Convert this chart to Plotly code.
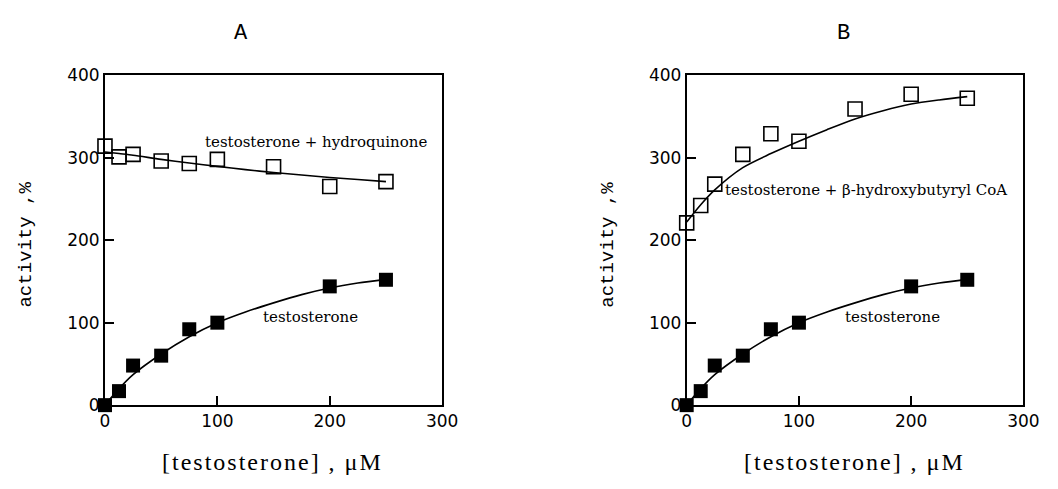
import plotly.graph_objects as go

W, H = 1058, 489

# ---- data ----
conc = [0, 12.5, 25, 50, 75, 100, 150, 200, 250]
hydroquinone = [314, 301, 304, 296, 293, 298, 289, 265, 271]
conc_t = [0, 12.5, 25, 50, 75, 100, 200, 250]
testosterone = [0, 17, 48, 60, 92, 100, 144, 152]
hydroxybutyryl = [221, 242, 268, 304, 329, 320, 359, 377, 372]

# fitted curves
fit_x = [0, 12.5, 25, 50, 75, 100, 125, 150, 175, 200, 225, 250]
fit_hq = [307, 305, 303, 298, 293.5, 289.5, 285.5, 282, 279, 276, 273.5, 271]
fit_t = [0, 20, 37, 62, 83, 100, 113, 124, 134, 142, 148, 152.5]
fit_hb = [222, 243, 261, 288, 305, 320, 334, 347, 357, 365, 370, 374]

xticks = [0, 100, 200, 300]
yticks = [0, 100, 200, 300, 400]

# ---- figure ----
fig = go.Figure()

def px(x):
    return x / W

def py(y):
    return 1 - y / H

open_marker = dict(symbol="square-open", size=14, color="black", line=dict(width=1.6, color="black"))
fill_marker = dict(symbol="square", size=14, color="black", line=dict(width=0))
line_style = dict(color="black", width=1.6, shape="spline", smoothing=0.8)

for xa, ya, upper, fit_upper in [("x", "y", hydroquinone, fit_hq), ("x2", "y2", hydroxybutyryl, fit_hb)]:
    fig.add_trace(go.Scatter(x=fit_x, y=fit_upper, mode="lines", line=line_style,
                             xaxis=xa, yaxis=ya, showlegend=False, hoverinfo="skip", cliponaxis=False))
    fig.add_trace(go.Scatter(x=fit_x, y=fit_t, mode="lines", line=line_style,
                             xaxis=xa, yaxis=ya, showlegend=False, hoverinfo="skip", cliponaxis=False))
    fig.add_trace(go.Scatter(x=conc, y=upper, mode="markers", marker=open_marker,
                             xaxis=xa, yaxis=ya, showlegend=False, cliponaxis=False))
    fig.add_trace(go.Scatter(x=conc_t, y=testosterone, mode="markers", marker=fill_marker,
                             xaxis=xa, yaxis=ya, showlegend=False, cliponaxis=False))

tickfont = dict(family="DejaVu Sans", size=17, color="black")
axis_common = dict(showgrid=False, zeroline=False, showline=True, linecolor="black", linewidth=1.8,
                   mirror=True, ticks="inside", ticklen=9, tickwidth=1.5, tickcolor="black",
                   tickfont=tickfont)

yd = [py(412), py(68)]
fig.update_layout(
    width=W, height=H,
    margin=dict(l=0, r=0, t=0, b=0),
    paper_bgcolor="white", plot_bgcolor="white",
    xaxis=dict(domain=[px(102), px(446)], range=[0, 300], tickvals=xticks, anchor="y", **axis_common),
    yaxis=dict(domain=yd, range=[0, 400], tickvals=yticks, anchor="x", **axis_common),
    xaxis2=dict(domain=[px(695.5), px(1039)], range=[0, 300], tickvals=xticks, anchor="y2", **axis_common),
    yaxis2=dict(domain=yd, range=[0, 400], tickvals=yticks, anchor="x2", **axis_common),
)

ann_font = dict(family="DejaVu Serif", size=15, color="black")
annotations = [
    dict(x=87, y=319, xref="x", yref="y", text="testosterone + hydroquinone", xanchor="left", yanchor="middle", showarrow=False, font=ann_font),
    dict(x=139, y=107, xref="x", yref="y", text="testosterone", xanchor="left", yanchor="middle", showarrow=False, font=ann_font),
    dict(x=139, y=107, xref="x2", yref="y2", text="testosterone", xanchor="left", yanchor="middle", showarrow=False, font=ann_font),
    dict(x=32.5, y=261, xref="x2", yref="y2", text="testosterone + β-hydroxybutyryl CoA", xanchor="left", yanchor="middle", showarrow=False, font=ann_font),
]
title_font = dict(family="Liberation Mono", size=22, color="black")
for txt, x in [("A", 241), ("B", 855)]:
    annotations.append(dict(x=px(x), y=py(25), xref="paper", yref="paper", text=txt, showarrow=False,
                            xanchor="center", yanchor="middle", font=title_font))
ylab_font = dict(family="Liberation Mono", size=19, color="black")
for x in [21, 615]:
    annotations.append(dict(x=px(x), y=py(245), xref="paper", yref="paper", text="activity ,%", textangle=-90,
                            showarrow=False, xanchor="center", yanchor="middle", font=ylab_font))
xlab_font = dict(family="Liberation Serif", size=24, color="black")
for x in [273, 867]:
    annotations.append(dict(x=px(x), y=py(471), xref="paper", yref="paper",
                            text='<span style="letter-spacing:2px">[testosterone] , μM</span>',
                            showarrow=False, xanchor="center", yanchor="middle", font=xlab_font))
fig.update_layout(annotations=annotations)

fig.write_html("out.html")
